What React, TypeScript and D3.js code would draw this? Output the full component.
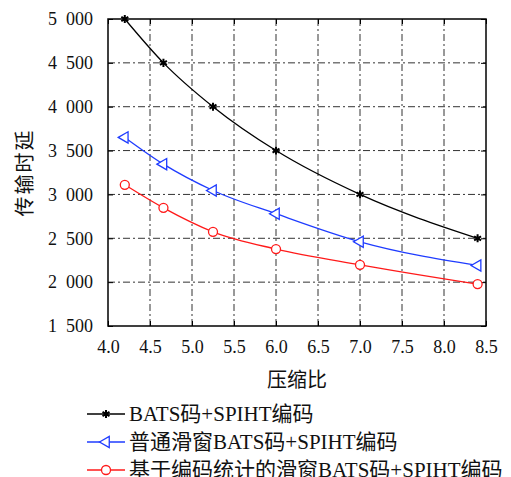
import * as d3 from "d3";
import React, { useEffect, useRef } from "react";

// 压缩比
const ratios = [4.2, 4.66, 5.25, 6.0, 7.0, 8.4];
// 传输时延
const batsSpiht = [5000, 4500, 4000, 3500, 3000, 2500];
const slidingBats = [3650, 3345, 3045, 2780, 2460, 2190];
const statSlidingBats = [3110, 2847, 2574, 2377, 2198, 1978];

const seriesNames = [
  "BATS码+SPIHT编码",
  "普通滑窗BATS码+SPIHT编码",
  "基于编码统计的滑窗BATS码+SPIHT编码",
];
const xTicks = [4.0, 4.5, 5.0, 5.5, 6.0, 6.5, 7.0, 7.5, 8.0, 8.5];
const yTicks = [1500, 2000, 2500, 3000, 3500, 4000, 4500, 5000];

const LATIN = "Liberation Serif";
const HAN = "Noto Sans CJK SC";

// 中英文分段设置字体
const mixedText = (sel: any, s: string) => {
  const parts = s.match(/[\u4e00-\u9fff]+|[^\u4e00-\u9fff]+/g) || [];
  parts.forEach((p) => {
    sel.append("tspan")
      .attr("style", `font-family: '${/[\u4e00-\u9fff]/.test(p) ? HAN : LATIN}'`)
      .text(p);
  });
};

const App: React.FC = () => {
  const ref = useRef<SVGSVGElement>(null);

  useEffect(() => {
    const W = 511;
    const H = 477;
    const margin = { top: 19, right: 25, bottom: 151, left: 108 };
    const width = W - margin.left - margin.right;
    const height = H - margin.top - margin.bottom;

    const svg = d3.select(ref.current).html("");
    const g = svg.append("g").attr("transform", `translate(${margin.left},${margin.top})`);

    const x = d3.scaleLinear().domain([4.0, 8.5]).range([0, width]);
    const y = d3.scaleLinear().domain([1500, 5000]).range([height, 0]);

    // 千位分隔用 en space
    const fmtY = d3
      .formatLocale({ decimal: ".", thousands: "\u2002", grouping: [3], currency: ["", ""] })
      .format(",");

    // 网格
    const dash = "7,3,2,3";
    g.selectAll("line.gx")
      .data(xTicks.slice(1, -1))
      .enter()
      .append("line")
      .attr("x1", (d) => x(d))
      .attr("x2", (d) => x(d))
      .attr("y1", 0)
      .attr("y2", height)
      .attr("stroke", "#333")
      .attr("stroke-width", 1)
      .attr("stroke-dasharray", dash);
    g.selectAll("line.gy")
      .data(yTicks.slice(1, -1))
      .enter()
      .append("line")
      .attr("x1", 0)
      .attr("x2", width)
      .attr("y1", (d) => y(d))
      .attr("y2", (d) => y(d))
      .attr("stroke", "#333")
      .attr("stroke-width", 1)
      .attr("stroke-dasharray", dash);

    // 坐标轴
    const xAxis = g
      .append("g")
      .attr("transform", `translate(0,${height})`)
      .call(d3.axisBottom(x).tickValues(xTicks).tickFormat(d3.format(".1f")).tickSizeInner(-5).tickSizeOuter(0).tickPadding(14));
    const yAxis = g
      .append("g")
      .call(d3.axisLeft(y).tickValues(yTicks).tickFormat((d) => fmtY(d as number)).tickSizeInner(-5).tickSizeOuter(0).tickPadding(15));
    g.append("g")
      .call(d3.axisRight(y).tickValues(yTicks).tickFormat(() => "").tickSizeInner(-5).tickSizeOuter(0))
      .attr("transform", `translate(${width},0)`);
    g.append("g")
      .call(d3.axisTop(x).tickValues(xTicks).tickFormat(() => "").tickSizeInner(-5).tickSizeOuter(0));
    g.selectAll("g").attr("font-family", null).attr("font-size", null);
    [xAxis, yAxis].forEach((a) => {
      a.selectAll("text")
        .attr("style", `font-family: '${LATIN}'`)
        .attr("font-size", 18)
        .attr("fill", "#111");
    });
    g.selectAll(".domain").remove();
    g.selectAll(".tick line").attr("stroke", "#000");

    g.append("rect")
      .attr("width", width)
      .attr("height", height)
      .attr("fill", "none")
      .attr("stroke", "#000")
      .attr("stroke-width", 1.5);

    // 曲线
    const series = [
      { values: batsSpiht, color: "#000000", marker: "star" },
      { values: slidingBats, color: "#1f3cff", marker: "tri" },
      { values: statSlidingBats, color: "#ff1a1a", marker: "circle" },
    ];
    const line = d3
      .line<number>()
      .x((_, i) => x(ratios[i]))
      .y((d) => y(d))
      .curve(d3.curveMonotoneX);

    const drawMarker = (sel: any, type: string, color: string, cx: number, cy: number) => {
      if (type === "star") {
        sel.append("path")
          .attr("d", d3.symbol().type(d3.symbolAsterisk).size(45)())
          .attr("transform", `translate(${cx},${cy})`)
          .attr("stroke", color)
          .attr("stroke-width", 2)
          .attr("fill", "none");
      } else if (type === "tri") {
        sel.append("path")
          .attr("d", d3.symbol().type(d3.symbolTriangle).size(55)())
          .attr("transform", `translate(${cx},${cy}) rotate(-90)`)
          .attr("stroke", color)
          .attr("stroke-width", 1.3)
          .attr("fill", "white");
      } else {
        sel.append("circle")
          .attr("cx", cx)
          .attr("cy", cy)
          .attr("r", 4.5)
          .attr("stroke", color)
          .attr("stroke-width", 1.3)
          .attr("fill", "white");
      }
    };

    series.forEach((s) => {
      g.append("path")
        .datum(s.values)
        .attr("d", line)
        .attr("fill", "none")
        .attr("stroke", s.color)
        .attr("stroke-width", 1.3);
      s.values.forEach((v, i) => drawMarker(g, s.marker, s.color, x(ratios[i]), y(v)));
    });

    // 轴标题
    svg.append("text")
      .attr("x", margin.left + width / 2)
      .attr("y", 387)
      .attr("text-anchor", "middle")
      .attr("style", `font-family: '${HAN}'`)
      .attr("font-size", 20)
      .attr("fill", "#111")
      .text("压缩比");
    svg.append("text")
      .attr("transform", `translate(32,${margin.top + height / 2}) rotate(-90)`)
      .attr("text-anchor", "middle")
      .attr("style", `font-family: '${HAN}'`)
      .attr("font-size", 20)
      .attr("letter-spacing", 2)
      .attr("fill", "#111")
      .text("传输时延");

    // 图例
    const legend = svg.append("g");
    series.forEach((s, i) => {
      const ly = 414 + i * 28;
      legend.append("line")
        .attr("x1", 87)
        .attr("x2", 125)
        .attr("y1", ly)
        .attr("y2", ly)
        .attr("stroke", s.color)
        .attr("stroke-width", 1.3);
      drawMarker(legend, s.marker, s.color, 106, ly);
      const t = legend.append("text")
        .attr("x", 129)
        .attr("y", ly + 7)
        .attr("font-size", 21)
        .attr("fill", "#111");
      mixedText(t, seriesNames[i]);
    });
  }, []);

  return (
    <svg
      ref={ref}
      width={511}
      height={477}
      style={{ position: "absolute", left: 0, top: 0, background: "white" }}
    ></svg>
  );
};

export default App;
